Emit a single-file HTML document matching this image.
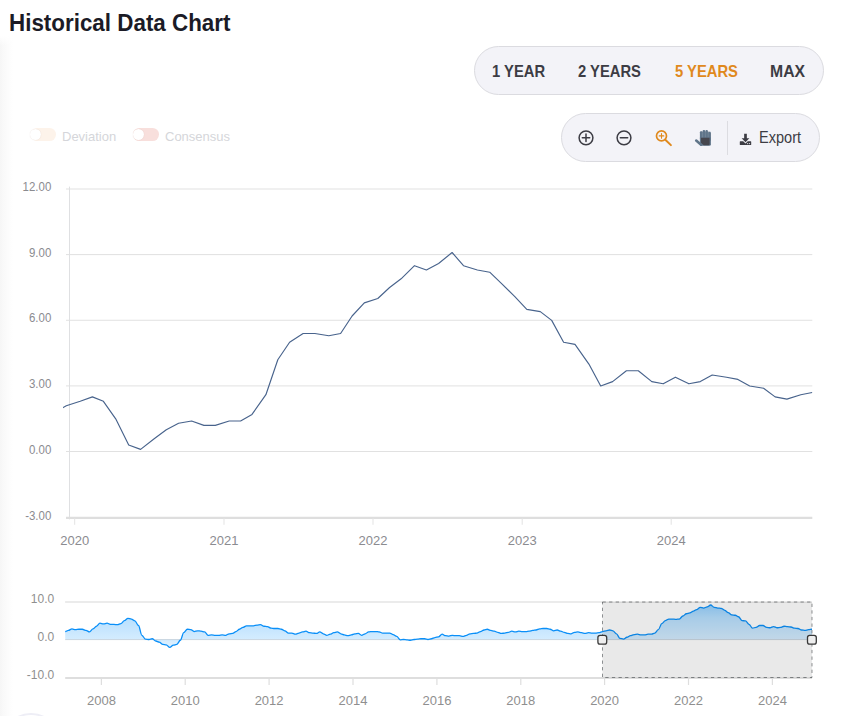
<!DOCTYPE html>
<html lang="en"><head><meta charset="utf-8"><title>Historical Data Chart</title>
<style>
html,body{margin:0;padding:0;background:#fff;}
body{width:844px;height:716px;position:relative;overflow:hidden;font-family:"Liberation Sans",Arial,sans-serif;}
.edge{position:absolute;left:0;top:36px;width:16px;height:680px;background:linear-gradient(90deg,#f6f6f6 0,#f9f9f9 3px,#fcfcfc 8px,#fff 13px);}
.edge:before{content:"";position:absolute;left:0;top:0;width:16px;height:10px;background:linear-gradient(180deg,#fff,rgba(255,255,255,0));}
.fab{position:absolute;left:0.5px;top:713.3px;width:56px;height:56px;border-radius:50%;border:2px solid #eeeef6;background:#fff;}
h2{position:absolute;left:8.6px;top:8.6px;margin:0;font-size:24.4px;line-height:28px;font-weight:700;color:#1b1b26;white-space:nowrap;transform:scaleX(0.918);transform-origin:0 50%;}
.pill{position:absolute;box-sizing:border-box;background:#f3f3f8;border:1px solid #dbdbe0;border-radius:24.5px;height:49px;}
.range{left:474px;top:46px;width:350px;}
.range span{position:absolute;top:14px;font-size:16.5px;line-height:20px;font-weight:700;color:#3c3c44;white-space:nowrap;transform:scaleX(0.895);transform-origin:0 50%;}
.range span.on{color:#e0891d;}
.tools{left:561px;top:113px;width:259px;}
.tools svg{position:absolute;left:0;top:0;}
.tools .sep{position:absolute;left:165px;top:7px;width:1px;height:34px;background:#dcdce1;}
.tools .exp{position:absolute;left:196.8px;top:14.7px;font-size:15.4px;line-height:18px;color:#3c3c44;white-space:nowrap;transform:scale(0.945,1.1);transform-origin:0 78%;}
.legend{position:absolute;left:0;top:0;}
.tg{position:absolute;top:128px;width:25.6px;height:12.8px;border-radius:6.4px;}
.tg i{position:absolute;left:-0.4px;top:0.9px;width:11px;height:11px;border-radius:50%;background:#fff;box-shadow:0 0 1px rgba(120,60,40,.18);}
.lg{position:absolute;top:128.8px;font-size:13px;line-height:16px;color:#d5d6da;white-space:nowrap;}
.chart{position:absolute;left:0;top:0;}
.chart text{font-family:"Liberation Sans",Arial,sans-serif;fill:#8b8b90;}
.yl{font-size:12.4px;} .xl{font-size:13px;} .nl{font-size:13px;fill:#8f8f8f!important;} .nyl{font-size:12px;fill:#8f8f8f!important;}
</style></head><body>
<div class="edge"></div>
<div class="fab"></div>
<h2>Historical Data Chart</h2>
<div class="pill range">
<span style="left:17px">1 YEAR</span><span style="left:102.8px">2 YEARS</span><span class="on" style="left:199.5px">5 YEARS</span><span style="left:295.3px;transform:scaleX(0.955)">MAX</span>
</div>
<div class="pill tools">
<svg width="259" height="48" viewBox="0 0 259 48">
<g fill="none" stroke="#3c3c44" stroke-width="1.5" stroke-linecap="round">
<circle cx="24" cy="23.8" r="6.9"/><path d="M20.3 23.8h7.4M24 20.1v7.4"/>
<circle cx="62" cy="23.8" r="6.9"/><path d="M58.3 23.8h7.4"/>
</g>
<g fill="none" stroke="#e0891d" stroke-linecap="round">
<circle cx="99.5" cy="21.9" r="5" stroke-width="1.7"/><path d="M103.3 25.7l5.6 5.4" stroke-width="2"/><path d="M97.2 21.9h4.6M99.5 19.6v4.6" stroke-width="1.1"/>
</g>
<rect x="138.6" y="17.6" width="9.8" height="7" fill="#8b9aa9"/>
<g fill="#60758a">
<rect x="137.9" y="17.2" width="2.45" height="9" rx="1.1"/>
<rect x="140.65" y="15.9" width="2.5" height="10" rx="1.1"/>
<rect x="143.4" y="15.9" width="2.5" height="10" rx="1.1"/>
<rect x="146.25" y="18" width="2.65" height="9" rx="1.1"/>
<path d="M137.9 23.5h11v6.7q0 1.500000-1.500000 1.500000h-8q-1.500000 0-1.500000-1.500000z"/>
<path d="M134.2 26.6l4.9 4.1" stroke="#60758a" stroke-width="2.6" stroke-linecap="round" fill="none"/>
</g>
<path d="M139 23.700000h8.600000v6.300000q0 1.200000-1.200000 1.200000h-4.700000l-2.700000-2.500000z" fill="#46464e"/>
<g fill="#3c3c44">
<path d="M182.150000 19.8h2.700000v4.500000h2.500000l-3.850000 3.900000-3.850000-3.900000h2.500000z"/>
<path d="M178.300000 27.300000h2.900000l2.300000 2.300000 2.300000-2.300000h2.900000q.500000 0 .500000.500000v2.600000q0 .500000-.500000.500000h-10.400000q-.500000 0-.500000-.500000v-2.600000q0-.500000.500000-.500000z"/>
<circle cx="185.700000" cy="29.600000" r=".550000" fill="#f3f3f8"/><circle cx="187.600000" cy="29.600000" r=".550000" fill="#f3f3f8"/>
</g>
</svg>
<div class="sep"></div>
<div class="exp">Export</div>
</div>
<div class="legend">
<div class="tg" style="left:30.5px;background:#fdf3ea"><i></i></div><div class="lg" style="left:62px">Deviation</div>
<div class="tg" style="left:133.4px;background:#f8dfdc"><i></i></div><div class="lg" style="left:165px">Consensus</div>
</div>
<svg class="chart" width="844" height="716" viewBox="0 0 844 716">
<defs>
<clipPath id="mc"><rect x="63" y="180" width="749.6" height="345"/></clipPath>
<clipPath id="selc"><rect x="602.5" y="602" width="209.5" height="75.5"/></clipPath>
<linearGradient id="ng" x1="0" y1="0" x2="0" y2="1"><stop offset="0" stop-color="#008ffb" stop-opacity="0.42"/><stop offset="0.31" stop-color="#008ffb" stop-opacity="0.28"/><stop offset="0.81" stop-color="#008ffb" stop-opacity="0.17"/><stop offset="1" stop-color="#008ffb" stop-opacity="0.12"/></linearGradient>
</defs>
<!-- main chart -->
<line x1="66" y1="189.0" x2="812.3" y2="189.0" stroke="#e1e1e1" stroke-width="1"/><line x1="66" y1="254.6" x2="812.3" y2="254.6" stroke="#e1e1e1" stroke-width="1"/><line x1="66" y1="320.25" x2="812.3" y2="320.25" stroke="#e1e1e1" stroke-width="1"/><line x1="66" y1="385.9" x2="812.3" y2="385.9" stroke="#e1e1e1" stroke-width="1"/><line x1="66" y1="451.5" x2="812.3" y2="451.5" stroke="#e1e1e1" stroke-width="1"/>
<line x1="69.5" y1="186.6" x2="69.5" y2="519.4" stroke="#dfe0e2" stroke-width="1"/>
<line x1="66" y1="517.8" x2="812.3" y2="517.8" stroke="#dedede" stroke-width="2.2"/>
<line x1="74.7" y1="518" x2="74.7" y2="524.8" stroke="#e3e3e3" stroke-width="1"/><line x1="224.0" y1="518" x2="224.0" y2="524.8" stroke="#e3e3e3" stroke-width="1"/><line x1="373.0" y1="518" x2="373.0" y2="524.8" stroke="#e3e3e3" stroke-width="1"/><line x1="522.2" y1="518" x2="522.2" y2="524.8" stroke="#e3e3e3" stroke-width="1"/><line x1="671.2" y1="518" x2="671.2" y2="524.8" stroke="#e3e3e3" stroke-width="1"/>
<text transform="translate(51.3,191.2) scale(0.925,1)" text-anchor="end" class="yl">12.00</text><text transform="translate(51.3,256.8) scale(0.925,1)" text-anchor="end" class="yl">9.00</text><text transform="translate(51.3,322.4) scale(0.925,1)" text-anchor="end" class="yl">6.00</text><text transform="translate(51.3,388.1) scale(0.925,1)" text-anchor="end" class="yl">3.00</text><text transform="translate(51.3,453.7) scale(0.925,1)" text-anchor="end" class="yl">0.00</text><text transform="translate(51.3,519.5) scale(0.925,1)" text-anchor="end" class="yl">-3.00</text>
<text x="74.7" y="545.3" text-anchor="middle" class="xl">2020</text><text x="224.0" y="545.3" text-anchor="middle" class="xl">2021</text><text x="373.0" y="545.3" text-anchor="middle" class="xl">2022</text><text x="522.2" y="545.3" text-anchor="middle" class="xl">2023</text><text x="671.2" y="545.3" text-anchor="middle" class="xl">2024</text>
<path d="M41.0 414.4 L54.8 412.2 L66.3 405.7 L80.2 401.3 L92.4 396.9 L103.4 401.3 L115.7 418.8 L128.7 445.0 L140.6 449.4 L154.5 438.5 L166.3 429.7 L178.6 423.2 L191.6 421.0 L203.9 425.4 L215.3 425.4 L229.2 421.0 L240.6 421.0 L252.0 414.4 L265.9 394.7 L277.8 359.7 L289.6 342.2 L303.1 333.5 L314.9 333.5 L328.8 335.7 L340.6 333.5 L352.1 316.0 L364.3 302.9 L377.8 298.5 L389.6 287.5 L401.1 278.8 L414.5 265.7 L426.4 270.0 L438.6 263.5 L452.1 252.5 L463.5 265.7 L477.4 270.0 L489.7 272.2 L501.1 283.2 L514.6 296.3 L526.8 309.4 L540.3 311.6 L551.7 320.4 L563.6 342.2 L575.0 344.4 L588.9 364.1 L600.7 386.0 L612.6 381.6 L626.4 370.7 L638.3 370.7 L651.8 381.6 L663.2 383.8 L675.4 377.2 L688.9 383.8 L700.3 381.6 L712.2 375.0 L726.5 377.2 L737.9 379.4 L749.7 386.0 L763.6 388.2 L775.1 396.9 L786.9 399.1 L800.8 394.7 L812.2 392.5" fill="none" stroke="#48638c" stroke-width="1.15" stroke-linejoin="round" clip-path="url(#mc)"/>
<!-- navigator -->
<line x1="65.1" y1="602" x2="812" y2="602" stroke="#ebebeb" stroke-width="2"/>
<line x1="65.2" y1="678" x2="812" y2="678" stroke="#dedede" stroke-width="2"/>
<line x1="101.4" y1="678" x2="101.4" y2="685" stroke="#dedede" stroke-width="1.2"/><line x1="185.2" y1="678" x2="185.2" y2="685" stroke="#dedede" stroke-width="1.2"/><line x1="269.1" y1="678" x2="269.1" y2="685" stroke="#dedede" stroke-width="1.2"/><line x1="353.0" y1="678" x2="353.0" y2="685" stroke="#dedede" stroke-width="1.2"/><line x1="436.9" y1="678" x2="436.9" y2="685" stroke="#dedede" stroke-width="1.2"/><line x1="520.8" y1="678" x2="520.8" y2="685" stroke="#dedede" stroke-width="1.2"/><line x1="604.6" y1="678" x2="604.6" y2="685" stroke="#dedede" stroke-width="1.2"/><line x1="688.5" y1="678" x2="688.5" y2="685" stroke="#dedede" stroke-width="1.2"/><line x1="772.4" y1="678" x2="772.4" y2="685" stroke="#dedede" stroke-width="1.2"/>
<path d="M65.20 631.54 C66.32 631.54 67.29 630.40 68.41 630.40 C69.65 630.40 70.72 628.89 71.97 628.89 C73.17 628.89 74.20 629.65 75.41 629.65 C76.65 629.65 77.72 629.27 78.96 629.27 C80.16 629.27 81.20 629.27 82.40 629.27 C83.64 629.27 84.71 630.40 85.95 630.40 C87.20 630.40 88.26 631.92 89.51 631.92 C90.71 631.92 91.74 628.89 92.95 628.89 C94.19 628.89 95.26 626.24 96.50 626.24 C97.71 626.24 98.74 623.20 99.94 623.20 C101.19 623.20 102.25 623.96 103.50 623.96 C104.74 623.96 105.81 623.20 107.05 623.20 C108.22 623.20 109.21 624.34 110.38 624.34 C111.62 624.34 112.69 624.34 113.93 624.34 C115.14 624.34 116.17 624.72 117.37 624.72 C118.62 624.72 119.68 623.58 120.93 623.58 C122.13 623.58 123.16 620.55 124.37 620.55 C125.61 620.55 126.68 618.28 127.92 618.28 C129.16 618.28 130.23 619.03 131.48 619.03 C132.68 619.03 133.71 620.93 134.92 620.93 C136.16 620.93 137.23 625.48 138.47 625.48 C139.67 625.48 140.71 635.33 141.91 635.33 C143.15 635.33 144.22 639.12 145.46 639.12 C146.71 639.12 147.77 639.50 149.02 639.50 C150.14 639.50 151.11 638.74 152.23 638.74 C153.47 638.74 154.54 641.02 155.78 641.02 C156.99 641.02 158.02 642.15 159.22 642.15 C160.47 642.15 161.53 644.43 162.78 644.43 C163.98 644.43 165.01 644.81 166.22 644.81 C167.46 644.81 168.53 647.46 169.77 647.46 C171.02 647.46 172.08 645.18 173.33 645.18 C174.53 645.18 175.56 644.43 176.77 644.43 C178.01 644.43 179.08 640.26 180.32 640.26 C181.53 640.26 182.56 632.68 183.76 632.68 C185.01 632.68 186.07 629.27 187.32 629.27 C188.56 629.27 189.63 629.65 190.87 629.65 C191.99 629.65 192.96 631.54 194.08 631.54 C195.33 631.54 196.39 630.78 197.64 630.78 C198.84 630.78 199.87 631.16 201.08 631.16 C202.32 631.16 203.39 631.92 204.63 631.92 C205.83 631.92 206.87 635.33 208.07 635.33 C209.31 635.33 210.38 634.95 211.62 634.95 C212.87 634.95 213.94 635.33 215.18 635.33 C216.38 635.33 217.42 635.33 218.62 635.33 C219.86 635.33 220.93 634.95 222.17 634.95 C223.38 634.95 224.41 635.33 225.61 635.33 C226.86 635.33 227.92 633.82 229.17 633.82 C230.41 633.82 231.48 633.44 232.72 633.44 C233.85 633.44 234.81 631.54 235.93 631.54 C237.18 631.54 238.24 629.27 239.49 629.27 C240.69 629.27 241.72 627.37 242.93 627.37 C244.17 627.37 245.24 625.86 246.48 625.86 C247.69 625.86 248.72 625.86 249.92 625.86 C251.17 625.86 252.23 625.86 253.48 625.86 C254.72 625.86 255.79 625.10 257.03 625.10 C258.24 625.10 259.27 624.72 260.47 624.72 C261.72 624.72 262.78 626.24 264.03 626.24 C265.23 626.24 266.26 626.61 267.47 626.61 C268.71 626.61 269.78 628.13 271.02 628.13 C272.26 628.13 273.33 628.51 274.57 628.51 C275.74 628.51 276.74 628.51 277.90 628.51 C279.14 628.51 280.21 629.27 281.45 629.27 C282.66 629.27 283.69 630.78 284.89 630.78 C286.14 630.78 287.20 633.06 288.45 633.06 C289.65 633.06 290.68 633.06 291.89 633.06 C293.13 633.06 294.20 634.19 295.44 634.19 C296.69 634.19 297.75 633.06 299.00 633.06 C300.20 633.06 301.23 631.92 302.44 631.92 C303.68 631.92 304.75 631.16 305.99 631.16 C307.20 631.16 308.23 632.68 309.43 632.68 C310.68 632.68 311.74 633.06 312.99 633.06 C314.23 633.06 315.30 633.44 316.54 633.44 C317.66 633.44 318.63 631.92 319.75 631.92 C321.00 631.92 322.06 633.82 323.31 633.82 C324.51 633.82 325.54 635.33 326.75 635.33 C327.99 635.33 329.06 634.19 330.30 634.19 C331.50 634.19 332.54 632.68 333.74 632.68 C334.98 632.68 336.05 631.92 337.30 631.92 C338.54 631.92 339.61 633.82 340.85 633.82 C342.05 633.82 343.09 634.95 344.29 634.95 C345.53 634.95 346.60 635.71 347.84 635.71 C349.05 635.71 350.08 634.95 351.28 634.95 C352.53 634.95 353.59 633.82 354.84 633.82 C356.08 633.82 357.15 633.44 358.39 633.44 C359.52 633.44 360.48 635.33 361.60 635.33 C362.85 635.33 363.91 633.82 365.16 633.82 C366.36 633.82 367.39 631.92 368.60 631.92 C369.84 631.92 370.91 631.54 372.15 631.54 C373.36 631.54 374.39 631.54 375.59 631.54 C376.84 631.54 377.90 631.92 379.15 631.92 C380.39 631.92 381.46 633.06 382.70 633.06 C383.91 633.06 384.94 633.06 386.14 633.06 C387.39 633.06 388.45 633.06 389.70 633.06 C390.90 633.06 391.93 634.57 393.14 634.57 C394.38 634.57 395.45 636.47 396.69 636.47 C397.93 636.47 399.00 639.88 400.25 639.88 C401.37 639.88 402.33 639.50 403.46 639.50 C404.70 639.50 405.77 639.88 407.01 639.88 C408.21 639.88 409.25 640.26 410.45 640.26 C411.69 640.26 412.76 639.50 414.00 639.50 C415.21 639.50 416.24 639.12 417.44 639.12 C418.69 639.12 419.76 638.74 421.00 638.74 C422.24 638.74 423.31 638.74 424.55 638.74 C425.76 638.74 426.79 639.50 427.99 639.50 C429.24 639.50 430.30 638.74 431.55 638.74 C432.75 638.74 433.78 637.61 434.99 637.61 C436.23 637.61 437.30 636.85 438.54 636.85 C439.79 636.85 440.85 634.19 442.10 634.19 C443.26 634.19 444.26 635.71 445.42 635.71 C446.67 635.71 447.73 636.09 448.98 636.09 C450.18 636.09 451.21 635.33 452.42 635.33 C453.66 635.33 454.73 635.71 455.97 635.71 C457.18 635.71 458.21 635.71 459.41 635.71 C460.66 635.71 461.72 636.47 462.97 636.47 C464.21 636.47 465.28 635.33 466.52 635.33 C467.72 635.33 468.76 633.82 469.96 633.82 C471.20 633.82 472.27 633.44 473.51 633.44 C474.72 633.44 475.75 633.06 476.95 633.06 C478.20 633.06 479.27 631.54 480.51 631.54 C481.75 631.54 482.82 630.02 484.06 630.02 C485.19 630.02 486.15 629.27 487.27 629.27 C488.52 629.27 489.58 630.40 490.83 630.40 C492.03 630.40 493.06 631.16 494.27 631.16 C495.51 631.16 496.58 632.30 497.82 632.30 C499.03 632.30 500.06 633.44 501.26 633.44 C502.51 633.44 503.57 633.06 504.82 633.06 C506.06 633.06 507.13 632.30 508.37 632.30 C509.58 632.30 510.61 631.16 511.81 631.16 C513.06 631.16 514.12 631.92 515.37 631.92 C516.57 631.92 517.60 631.16 518.81 631.16 C520.05 631.16 521.12 631.54 522.36 631.54 C523.61 631.54 524.67 631.54 525.92 631.54 C527.04 631.54 528.00 631.16 529.13 631.16 C530.37 631.16 531.44 630.40 532.68 630.40 C533.88 630.40 534.92 630.02 536.12 630.02 C537.36 630.02 538.43 628.89 539.68 628.89 C540.88 628.89 541.91 628.51 543.12 628.51 C544.36 628.51 545.43 628.51 546.67 628.51 C547.91 628.51 548.98 629.27 550.22 629.27 C551.43 629.27 552.46 630.78 553.66 630.78 C554.91 630.78 555.97 630.02 557.22 630.02 C558.42 630.02 559.45 631.16 560.66 631.16 C561.90 631.16 562.97 632.30 564.21 632.30 C565.46 632.30 566.52 633.44 567.77 633.44 C568.89 633.44 569.85 633.82 570.98 633.82 C572.22 633.82 573.29 632.30 574.53 632.30 C575.74 632.30 576.77 631.92 577.97 631.92 C579.22 631.92 580.28 632.68 581.53 632.68 C582.73 632.68 583.76 633.44 584.97 633.44 C586.21 633.44 587.28 632.68 588.52 632.68 C589.77 632.68 590.83 633.06 592.08 633.06 C593.28 633.06 594.31 633.06 595.52 633.06 C596.76 633.06 597.83 632.68 599.07 632.68 C600.27 632.68 601.31 631.54 602.51 631.54 C603.75 631.54 604.82 630.78 606.07 630.78 C607.31 630.78 608.38 630.02 609.62 630.02 C610.78 630.02 611.78 630.78 612.95 630.78 C614.19 630.78 615.26 633.82 616.50 633.82 C617.70 633.82 618.74 638.36 619.94 638.36 C621.18 638.36 622.25 639.12 623.49 639.12 C624.70 639.12 625.73 637.23 626.93 637.23 C628.18 637.23 629.24 635.71 630.49 635.71 C631.73 635.71 632.80 634.57 634.04 634.57 C635.25 634.57 636.28 634.19 637.48 634.19 C638.73 634.19 639.79 634.95 641.04 634.95 C642.24 634.95 643.27 634.95 644.48 634.95 C645.72 634.95 646.79 634.19 648.03 634.19 C649.28 634.19 650.34 634.19 651.59 634.19 C652.71 634.19 653.67 633.06 654.80 633.06 C656.04 633.06 657.11 629.65 658.35 629.65 C659.56 629.65 660.59 623.58 661.79 623.58 C663.04 623.58 664.10 620.55 665.35 620.55 C666.55 620.55 667.58 619.03 668.79 619.03 C670.03 619.03 671.10 619.03 672.34 619.03 C673.58 619.03 674.65 619.41 675.90 619.41 C677.10 619.41 678.13 619.03 679.33 619.03 C680.58 619.03 681.65 616.00 682.89 616.00 C684.09 616.00 685.13 613.73 686.33 613.73 C687.57 613.73 688.64 612.97 689.88 612.97 C691.13 612.97 692.19 611.08 693.44 611.08 C694.56 611.08 695.53 609.56 696.65 609.56 C697.89 609.56 698.96 607.28 700.20 607.28 C701.41 607.28 702.44 608.04 703.64 608.04 C704.89 608.04 705.95 606.91 707.20 606.91 C708.40 606.91 709.43 605.01 710.64 605.01 C711.88 605.01 712.95 607.28 714.19 607.28 C715.44 607.28 716.50 608.04 717.75 608.04 C718.95 608.04 719.98 608.42 721.19 608.42 C722.43 608.42 723.50 610.32 724.74 610.32 C725.95 610.32 726.98 612.59 728.18 612.59 C729.43 612.59 730.49 614.87 731.74 614.87 C732.98 614.87 734.05 615.24 735.29 615.24 C736.41 615.24 737.38 616.76 738.50 616.76 C739.75 616.76 740.81 620.55 742.06 620.55 C743.26 620.55 744.29 620.93 745.50 620.93 C746.74 620.93 747.81 624.34 749.05 624.34 C750.25 624.34 751.29 628.13 752.49 628.13 C753.73 628.13 754.80 627.37 756.04 627.37 C757.29 627.37 758.35 625.48 759.60 625.48 C760.80 625.48 761.83 625.48 763.04 625.48 C764.28 625.48 765.35 627.37 766.59 627.37 C767.80 627.37 768.83 627.75 770.03 627.75 C771.28 627.75 772.34 626.61 773.59 626.61 C774.83 626.61 775.90 627.75 777.14 627.75 C778.31 627.75 779.30 627.37 780.47 627.37 C781.71 627.37 782.78 626.24 784.02 626.24 C785.23 626.24 786.26 626.61 787.46 626.61 C788.71 626.61 789.77 626.99 791.02 626.99 C792.22 626.99 793.25 628.13 794.46 628.13 C795.70 628.13 796.77 628.51 798.01 628.51 C799.26 628.51 800.32 630.02 801.57 630.02 C802.77 630.02 803.80 630.40 805.01 630.40 C806.25 630.40 807.32 629.65 808.56 629.65 C809.76 629.65 810.80 629.27 812.00 629.27 L812.00 639.5 L65.20 639.5 Z" fill="url(#ng)"/>
<line x1="65.2" y1="639.6" x2="812" y2="639.6" stroke="#7c8896" stroke-opacity="0.3" stroke-width="1"/>
<path d="M65.20 631.54 C66.32 631.54 67.29 630.40 68.41 630.40 C69.65 630.40 70.72 628.89 71.97 628.89 C73.17 628.89 74.20 629.65 75.41 629.65 C76.65 629.65 77.72 629.27 78.96 629.27 C80.16 629.27 81.20 629.27 82.40 629.27 C83.64 629.27 84.71 630.40 85.95 630.40 C87.20 630.40 88.26 631.92 89.51 631.92 C90.71 631.92 91.74 628.89 92.95 628.89 C94.19 628.89 95.26 626.24 96.50 626.24 C97.71 626.24 98.74 623.20 99.94 623.20 C101.19 623.20 102.25 623.96 103.50 623.96 C104.74 623.96 105.81 623.20 107.05 623.20 C108.22 623.20 109.21 624.34 110.38 624.34 C111.62 624.34 112.69 624.34 113.93 624.34 C115.14 624.34 116.17 624.72 117.37 624.72 C118.62 624.72 119.68 623.58 120.93 623.58 C122.13 623.58 123.16 620.55 124.37 620.55 C125.61 620.55 126.68 618.28 127.92 618.28 C129.16 618.28 130.23 619.03 131.48 619.03 C132.68 619.03 133.71 620.93 134.92 620.93 C136.16 620.93 137.23 625.48 138.47 625.48 C139.67 625.48 140.71 635.33 141.91 635.33 C143.15 635.33 144.22 639.12 145.46 639.12 C146.71 639.12 147.77 639.50 149.02 639.50 C150.14 639.50 151.11 638.74 152.23 638.74 C153.47 638.74 154.54 641.02 155.78 641.02 C156.99 641.02 158.02 642.15 159.22 642.15 C160.47 642.15 161.53 644.43 162.78 644.43 C163.98 644.43 165.01 644.81 166.22 644.81 C167.46 644.81 168.53 647.46 169.77 647.46 C171.02 647.46 172.08 645.18 173.33 645.18 C174.53 645.18 175.56 644.43 176.77 644.43 C178.01 644.43 179.08 640.26 180.32 640.26 C181.53 640.26 182.56 632.68 183.76 632.68 C185.01 632.68 186.07 629.27 187.32 629.27 C188.56 629.27 189.63 629.65 190.87 629.65 C191.99 629.65 192.96 631.54 194.08 631.54 C195.33 631.54 196.39 630.78 197.64 630.78 C198.84 630.78 199.87 631.16 201.08 631.16 C202.32 631.16 203.39 631.92 204.63 631.92 C205.83 631.92 206.87 635.33 208.07 635.33 C209.31 635.33 210.38 634.95 211.62 634.95 C212.87 634.95 213.94 635.33 215.18 635.33 C216.38 635.33 217.42 635.33 218.62 635.33 C219.86 635.33 220.93 634.95 222.17 634.95 C223.38 634.95 224.41 635.33 225.61 635.33 C226.86 635.33 227.92 633.82 229.17 633.82 C230.41 633.82 231.48 633.44 232.72 633.44 C233.85 633.44 234.81 631.54 235.93 631.54 C237.18 631.54 238.24 629.27 239.49 629.27 C240.69 629.27 241.72 627.37 242.93 627.37 C244.17 627.37 245.24 625.86 246.48 625.86 C247.69 625.86 248.72 625.86 249.92 625.86 C251.17 625.86 252.23 625.86 253.48 625.86 C254.72 625.86 255.79 625.10 257.03 625.10 C258.24 625.10 259.27 624.72 260.47 624.72 C261.72 624.72 262.78 626.24 264.03 626.24 C265.23 626.24 266.26 626.61 267.47 626.61 C268.71 626.61 269.78 628.13 271.02 628.13 C272.26 628.13 273.33 628.51 274.57 628.51 C275.74 628.51 276.74 628.51 277.90 628.51 C279.14 628.51 280.21 629.27 281.45 629.27 C282.66 629.27 283.69 630.78 284.89 630.78 C286.14 630.78 287.20 633.06 288.45 633.06 C289.65 633.06 290.68 633.06 291.89 633.06 C293.13 633.06 294.20 634.19 295.44 634.19 C296.69 634.19 297.75 633.06 299.00 633.06 C300.20 633.06 301.23 631.92 302.44 631.92 C303.68 631.92 304.75 631.16 305.99 631.16 C307.20 631.16 308.23 632.68 309.43 632.68 C310.68 632.68 311.74 633.06 312.99 633.06 C314.23 633.06 315.30 633.44 316.54 633.44 C317.66 633.44 318.63 631.92 319.75 631.92 C321.00 631.92 322.06 633.82 323.31 633.82 C324.51 633.82 325.54 635.33 326.75 635.33 C327.99 635.33 329.06 634.19 330.30 634.19 C331.50 634.19 332.54 632.68 333.74 632.68 C334.98 632.68 336.05 631.92 337.30 631.92 C338.54 631.92 339.61 633.82 340.85 633.82 C342.05 633.82 343.09 634.95 344.29 634.95 C345.53 634.95 346.60 635.71 347.84 635.71 C349.05 635.71 350.08 634.95 351.28 634.95 C352.53 634.95 353.59 633.82 354.84 633.82 C356.08 633.82 357.15 633.44 358.39 633.44 C359.52 633.44 360.48 635.33 361.60 635.33 C362.85 635.33 363.91 633.82 365.16 633.82 C366.36 633.82 367.39 631.92 368.60 631.92 C369.84 631.92 370.91 631.54 372.15 631.54 C373.36 631.54 374.39 631.54 375.59 631.54 C376.84 631.54 377.90 631.92 379.15 631.92 C380.39 631.92 381.46 633.06 382.70 633.06 C383.91 633.06 384.94 633.06 386.14 633.06 C387.39 633.06 388.45 633.06 389.70 633.06 C390.90 633.06 391.93 634.57 393.14 634.57 C394.38 634.57 395.45 636.47 396.69 636.47 C397.93 636.47 399.00 639.88 400.25 639.88 C401.37 639.88 402.33 639.50 403.46 639.50 C404.70 639.50 405.77 639.88 407.01 639.88 C408.21 639.88 409.25 640.26 410.45 640.26 C411.69 640.26 412.76 639.50 414.00 639.50 C415.21 639.50 416.24 639.12 417.44 639.12 C418.69 639.12 419.76 638.74 421.00 638.74 C422.24 638.74 423.31 638.74 424.55 638.74 C425.76 638.74 426.79 639.50 427.99 639.50 C429.24 639.50 430.30 638.74 431.55 638.74 C432.75 638.74 433.78 637.61 434.99 637.61 C436.23 637.61 437.30 636.85 438.54 636.85 C439.79 636.85 440.85 634.19 442.10 634.19 C443.26 634.19 444.26 635.71 445.42 635.71 C446.67 635.71 447.73 636.09 448.98 636.09 C450.18 636.09 451.21 635.33 452.42 635.33 C453.66 635.33 454.73 635.71 455.97 635.71 C457.18 635.71 458.21 635.71 459.41 635.71 C460.66 635.71 461.72 636.47 462.97 636.47 C464.21 636.47 465.28 635.33 466.52 635.33 C467.72 635.33 468.76 633.82 469.96 633.82 C471.20 633.82 472.27 633.44 473.51 633.44 C474.72 633.44 475.75 633.06 476.95 633.06 C478.20 633.06 479.27 631.54 480.51 631.54 C481.75 631.54 482.82 630.02 484.06 630.02 C485.19 630.02 486.15 629.27 487.27 629.27 C488.52 629.27 489.58 630.40 490.83 630.40 C492.03 630.40 493.06 631.16 494.27 631.16 C495.51 631.16 496.58 632.30 497.82 632.30 C499.03 632.30 500.06 633.44 501.26 633.44 C502.51 633.44 503.57 633.06 504.82 633.06 C506.06 633.06 507.13 632.30 508.37 632.30 C509.58 632.30 510.61 631.16 511.81 631.16 C513.06 631.16 514.12 631.92 515.37 631.92 C516.57 631.92 517.60 631.16 518.81 631.16 C520.05 631.16 521.12 631.54 522.36 631.54 C523.61 631.54 524.67 631.54 525.92 631.54 C527.04 631.54 528.00 631.16 529.13 631.16 C530.37 631.16 531.44 630.40 532.68 630.40 C533.88 630.40 534.92 630.02 536.12 630.02 C537.36 630.02 538.43 628.89 539.68 628.89 C540.88 628.89 541.91 628.51 543.12 628.51 C544.36 628.51 545.43 628.51 546.67 628.51 C547.91 628.51 548.98 629.27 550.22 629.27 C551.43 629.27 552.46 630.78 553.66 630.78 C554.91 630.78 555.97 630.02 557.22 630.02 C558.42 630.02 559.45 631.16 560.66 631.16 C561.90 631.16 562.97 632.30 564.21 632.30 C565.46 632.30 566.52 633.44 567.77 633.44 C568.89 633.44 569.85 633.82 570.98 633.82 C572.22 633.82 573.29 632.30 574.53 632.30 C575.74 632.30 576.77 631.92 577.97 631.92 C579.22 631.92 580.28 632.68 581.53 632.68 C582.73 632.68 583.76 633.44 584.97 633.44 C586.21 633.44 587.28 632.68 588.52 632.68 C589.77 632.68 590.83 633.06 592.08 633.06 C593.28 633.06 594.31 633.06 595.52 633.06 C596.76 633.06 597.83 632.68 599.07 632.68 C600.27 632.68 601.31 631.54 602.51 631.54 C603.75 631.54 604.82 630.78 606.07 630.78 C607.31 630.78 608.38 630.02 609.62 630.02 C610.78 630.02 611.78 630.78 612.95 630.78 C614.19 630.78 615.26 633.82 616.50 633.82 C617.70 633.82 618.74 638.36 619.94 638.36 C621.18 638.36 622.25 639.12 623.49 639.12 C624.70 639.12 625.73 637.23 626.93 637.23 C628.18 637.23 629.24 635.71 630.49 635.71 C631.73 635.71 632.80 634.57 634.04 634.57 C635.25 634.57 636.28 634.19 637.48 634.19 C638.73 634.19 639.79 634.95 641.04 634.95 C642.24 634.95 643.27 634.95 644.48 634.95 C645.72 634.95 646.79 634.19 648.03 634.19 C649.28 634.19 650.34 634.19 651.59 634.19 C652.71 634.19 653.67 633.06 654.80 633.06 C656.04 633.06 657.11 629.65 658.35 629.65 C659.56 629.65 660.59 623.58 661.79 623.58 C663.04 623.58 664.10 620.55 665.35 620.55 C666.55 620.55 667.58 619.03 668.79 619.03 C670.03 619.03 671.10 619.03 672.34 619.03 C673.58 619.03 674.65 619.41 675.90 619.41 C677.10 619.41 678.13 619.03 679.33 619.03 C680.58 619.03 681.65 616.00 682.89 616.00 C684.09 616.00 685.13 613.73 686.33 613.73 C687.57 613.73 688.64 612.97 689.88 612.97 C691.13 612.97 692.19 611.08 693.44 611.08 C694.56 611.08 695.53 609.56 696.65 609.56 C697.89 609.56 698.96 607.28 700.20 607.28 C701.41 607.28 702.44 608.04 703.64 608.04 C704.89 608.04 705.95 606.91 707.20 606.91 C708.40 606.91 709.43 605.01 710.64 605.01 C711.88 605.01 712.95 607.28 714.19 607.28 C715.44 607.28 716.50 608.04 717.75 608.04 C718.95 608.04 719.98 608.42 721.19 608.42 C722.43 608.42 723.50 610.32 724.74 610.32 C725.95 610.32 726.98 612.59 728.18 612.59 C729.43 612.59 730.49 614.87 731.74 614.87 C732.98 614.87 734.05 615.24 735.29 615.24 C736.41 615.24 737.38 616.76 738.50 616.76 C739.75 616.76 740.81 620.55 742.06 620.55 C743.26 620.55 744.29 620.93 745.50 620.93 C746.74 620.93 747.81 624.34 749.05 624.34 C750.25 624.34 751.29 628.13 752.49 628.13 C753.73 628.13 754.80 627.37 756.04 627.37 C757.29 627.37 758.35 625.48 759.60 625.48 C760.80 625.48 761.83 625.48 763.04 625.48 C764.28 625.48 765.35 627.37 766.59 627.37 C767.80 627.37 768.83 627.75 770.03 627.75 C771.28 627.75 772.34 626.61 773.59 626.61 C774.83 626.61 775.90 627.75 777.14 627.75 C778.31 627.75 779.30 627.37 780.47 627.37 C781.71 627.37 782.78 626.24 784.02 626.24 C785.23 626.24 786.26 626.61 787.46 626.61 C788.71 626.61 789.77 626.99 791.02 626.99 C792.22 626.99 793.25 628.13 794.46 628.13 C795.70 628.13 796.77 628.51 798.01 628.51 C799.26 628.51 800.32 630.02 801.57 630.02 C802.77 630.02 803.80 630.40 805.01 630.40 C806.25 630.40 807.32 629.65 808.56 629.65 C809.76 629.65 810.80 629.27 812.00 629.27" fill="none" stroke="#0a8ff8" stroke-width="1.3" stroke-linejoin="round"/>
<rect x="602.5" y="602" width="209.5" height="75.5" fill="#1a1a1a" fill-opacity="0.095" stroke="#24292e" stroke-opacity="0.5" stroke-width="1" stroke-dasharray="3.3 3.3"/>
<rect x="597.9" y="635.4" width="8.8" height="8.8" rx="2.2" fill="#eeeeee" stroke="#383838" stroke-width="1.3"/>
<rect x="807.5" y="635.4" width="8.8" height="8.8" rx="2.2" fill="#eeeeee" stroke="#383838" stroke-width="1.3"/>
<text x="54.2" y="603.0" text-anchor="end" class="nyl">10.0</text><text x="54.2" y="640.8" text-anchor="end" class="nyl">0.0</text><text x="54.2" y="678.9" text-anchor="end" class="nyl">-10.0</text>
<text x="101.4" y="704.8" text-anchor="middle" class="nl">2008</text><text x="185.2" y="704.8" text-anchor="middle" class="nl">2010</text><text x="269.1" y="704.8" text-anchor="middle" class="nl">2012</text><text x="353.0" y="704.8" text-anchor="middle" class="nl">2014</text><text x="436.9" y="704.8" text-anchor="middle" class="nl">2016</text><text x="520.8" y="704.8" text-anchor="middle" class="nl">2018</text><text x="604.6" y="704.8" text-anchor="middle" class="nl">2020</text><text x="688.5" y="704.8" text-anchor="middle" class="nl">2022</text><text x="772.4" y="704.8" text-anchor="middle" class="nl">2024</text>
</svg>
</body></html>
